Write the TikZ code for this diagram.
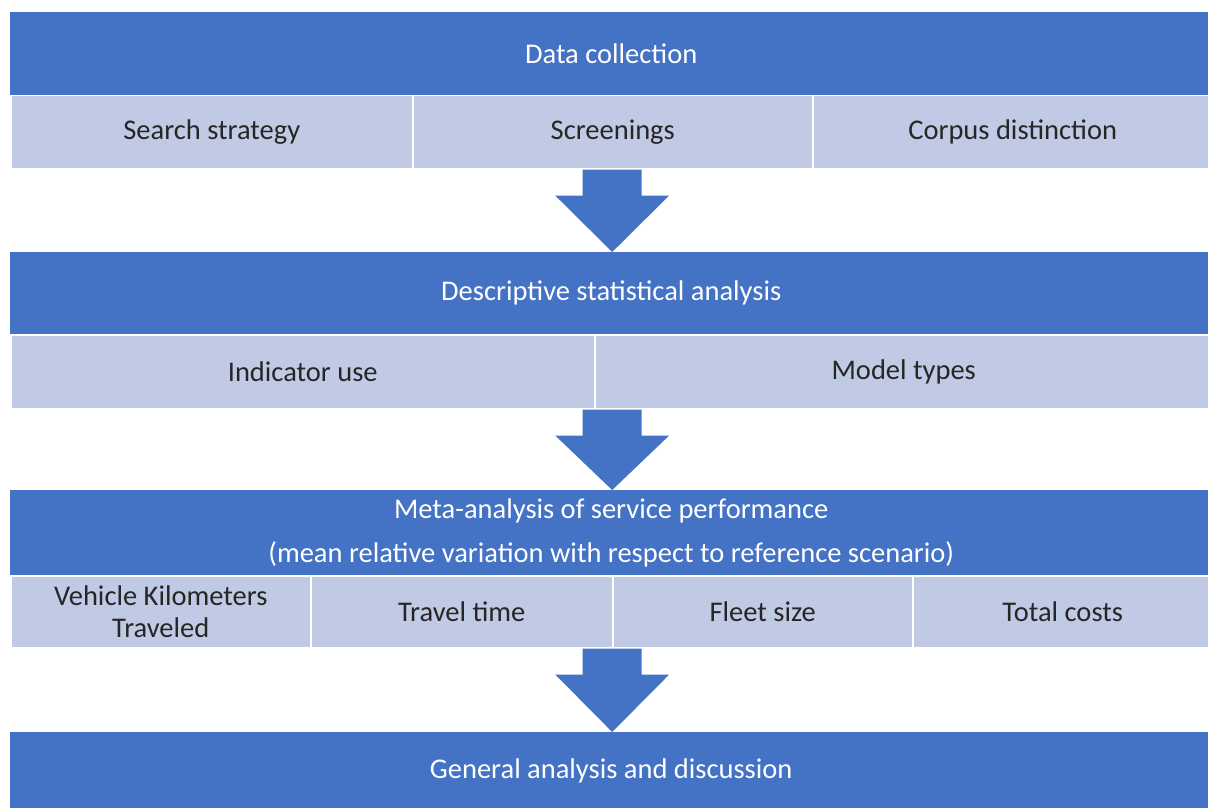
\documentclass[tikz,border=0pt]{standalone}
\usepackage{fontspec}
\setmainfont{Carlito}
\usetikzlibrary{calc}
\definecolor{barblue}{RGB}{68,114,196}
\definecolor{cellblue}{RGB}{193,202,228}
\definecolor{celltext}{RGB}{38,38,38}
\newcommand\blockarrow[2]{%
  \fill[barblue] ($(#1)+(-29.5,0)$) -- ($(#1)+(29.5,0)$) -- ($(#1)+(29.5,26)$)
    -- ($(#1)+(57,26)$) -- (#2) -- ($(#1)+(-57,26)$) -- ($(#1)+(-29.5,26)$) -- cycle;}
\begin{document}
\begin{tikzpicture}[x=1pt,y=-1pt,
  font=\fontsize{28.5}{32}\selectfont,
  barbox/.style={fill=barblue, text=white, anchor=north west, inner sep=0pt, minimum width=1202pt, align=center},
  cellbox/.style={fill=cellblue, draw=white, line width=1.5pt, text=celltext, anchor=north west, inner sep=0pt, align=center}]
\useasboundingbox (0,0) rectangle (1208,808);
% bars
\node[barbox, minimum height=83pt] (b1) at (10,12) {Data collection};
\node[cellbox, minimum width=402pt, minimum height=73pt] (r1a) at (10,95) {Search strategy};
\node[cellbox, minimum width=400pt, minimum height=73pt] (r1b) at (412,95) {Screenings};
\node[cellbox, minimum width=400pt, minimum height=73pt] (r1c) at (812,95) {Corpus distinction};

\node[barbox, minimum height=82pt] (b2) at (10,252) {Descriptive statistical analysis};
\node[cellbox, minimum width=584pt, minimum height=74pt] (r2a) at (10,334) {Indicator use};
\node[cellbox, minimum width=618pt, minimum height=74pt] (r2b) at (594,334) {Model types};

\node[barbox, minimum height=85pt] (b3) at (10,490) {Meta-analysis of service performance\\[12pt](mean relative variation with respect to reference scenario)};
\node[cellbox, minimum width=300pt, minimum height=72pt] (r3a) at (10,575) {Vehicle Kilometers\\Traveled};
\node[cellbox, minimum width=302pt, minimum height=72pt] (r3b) at (310,575) {Travel time};
\node[cellbox, minimum width=300pt, minimum height=72pt] (r3c) at (612,575) {Fleet size};
\node[cellbox, minimum width=300pt, minimum height=72pt] (r3d) at (912,575) {Total costs};

\node[barbox, minimum height=78pt] (b4) at (10,732) {General analysis and discussion};

% arrows
\coordinate (a1s) at ($(b1.center |- r1b.south)+(1,0)$);
\coordinate (a1e) at ($(b1.center |- b2.north)+(1,0)$);
\blockarrow{a1s}{a1e}
\coordinate (a2s) at ($(b1.center |- r2a.south)+(1,0)$);
\coordinate (a2e) at ($(b1.center |- b3.north)+(1,0)$);
\blockarrow{a2s}{a2e}
\coordinate (a3s) at ($(b1.center |- r3c.south)+(1,0)$);
\coordinate (a3e) at ($(b1.center |- b4.north)+(1,0)$);
\blockarrow{a3s}{a3e}
\end{tikzpicture}
\end{document}
